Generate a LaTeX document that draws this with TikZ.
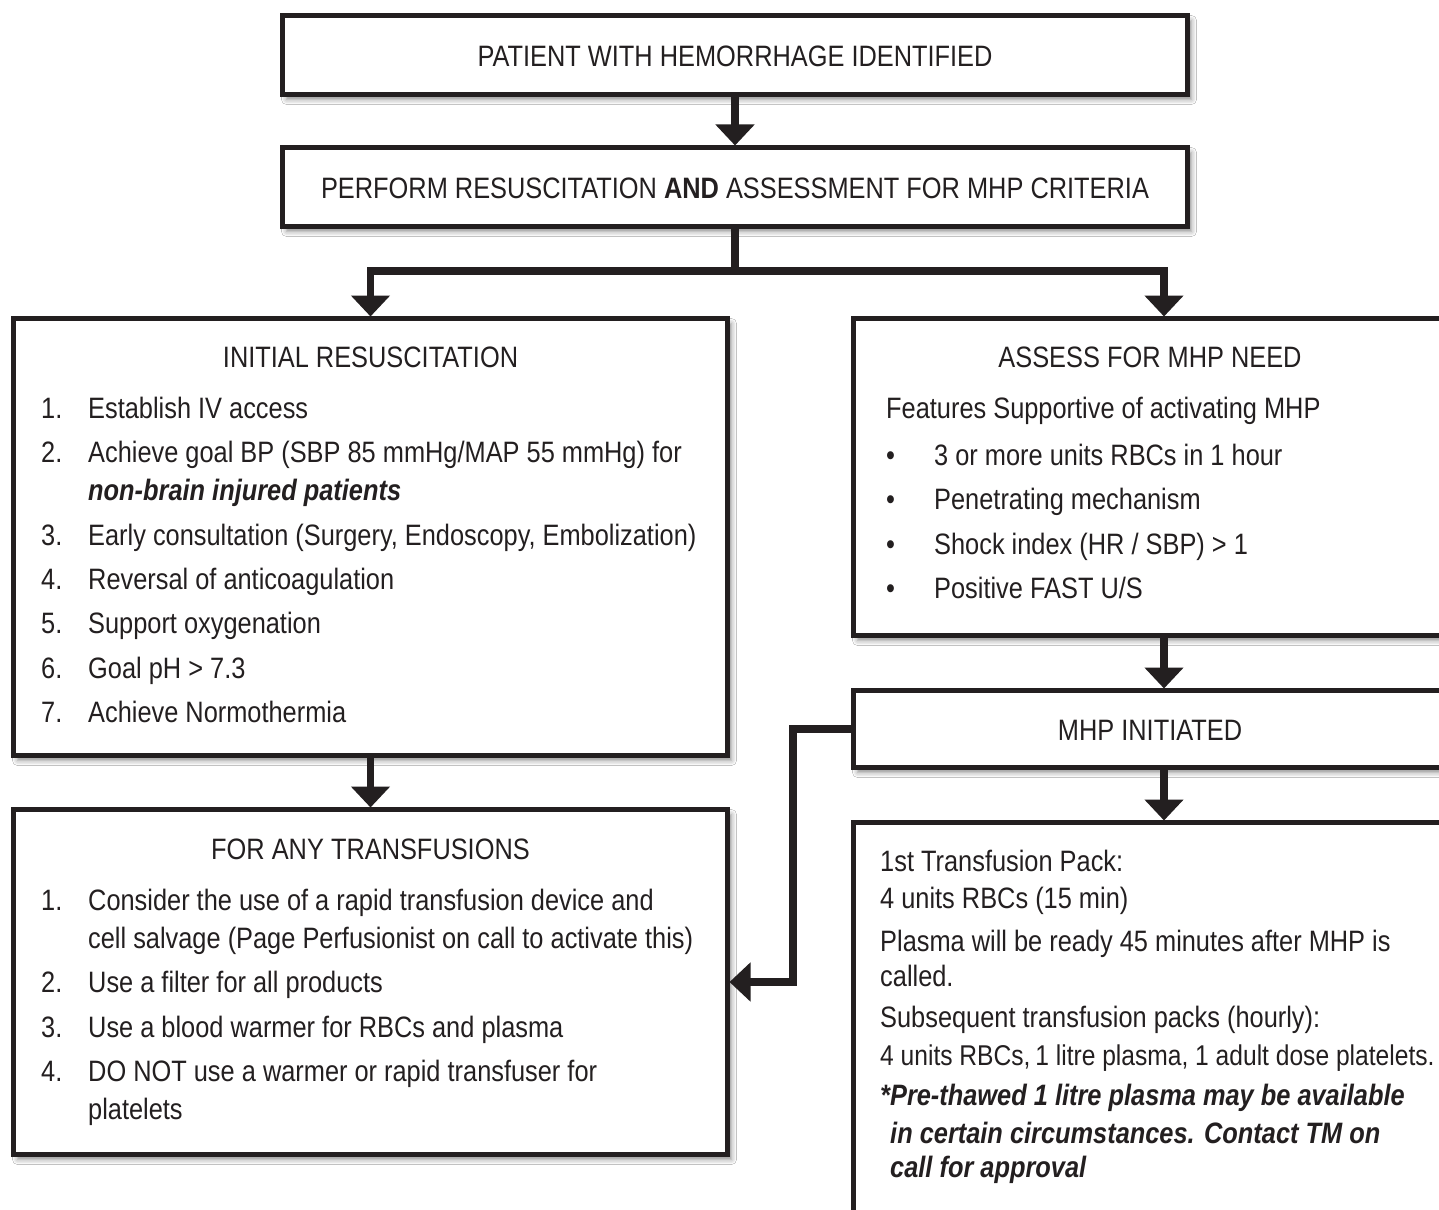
\documentclass[tikz,border=0pt]{standalone}
\usepackage{fontspec}
\setmainfont{Liberation Sans}[FakeStretch=0.86]
\usetikzlibrary{arrows.meta,shadows.blur,calc}
\definecolor{ink}{HTML}{231F20}
\begin{document}
\begin{tikzpicture}[x=1pt,y=-1pt,
  font=\fontsize{29.5}{35}\selectfont,
  box/.style={draw=ink, line width=5pt, fill=white, rectangle, inner sep=0pt, outer sep=0pt,
    anchor=north west,
    blur shadow={shadow xshift=4pt, shadow yshift=-5pt, shadow blur radius=5pt, shadow opacity=45}},
  tl/.style={anchor=base west, inner sep=0pt, text=ink},
  tc/.style={anchor=base, inner sep=0pt, text=ink},
  conn/.style={draw=ink, line width=7.5pt, line join=miter},
  arr/.style={conn, -{Triangle[width=38pt,length=21pt]}, shorten >=2pt}]
\clip (0,0) rectangle (1439,1209);
\fill[white] (0,0) rectangle (1439,1209);

% boxes
\node[box, minimum width=905pt, minimum height=79pt] (n1) at (282.5,15.5) {};
\node[box, minimum width=905pt, minimum height=79pt] (n2) at (282.5,147.5) {};
\node[box, minimum width=714pt, minimum height=437pt] (ir) at (13.5,318.5) {};
\node[box, minimum width=620pt, minimum height=317pt] (as) at (853.5,318.5) {};
\node[box, minimum width=620pt, minimum height=77pt] (mhp) at (853.5,690.5) {};
\node[box, minimum width=620pt, minimum height=420pt] (tp) at (853.5,822.5) {};
\node[box, minimum width=714pt, minimum height=345pt] (fa) at (13.5,809.5) {};

% connectors
\coordinate (jn) at (735,271);
\coordinate (rx) at (1164,0);
\coordinate (bend) at (793,982);
\draw[arr] (n1.south) -- (n2.north);
\draw[conn] (n2.south) -- (jn);
\draw[arr] (jn) -| (ir.north);
\draw[arr] (jn) -| (rx |- as.north);
\draw[arr] (ir.south) -- (fa.north);
\draw[arr] (rx |- as.south) -- (rx |- mhp.north);
\draw[arr] (rx |- mhp.south) -- (rx |- tp.north);
\draw[arr] (mhp.west) -| (bend) -- (fa.east);

% top texts
\node[tc] (t1) at (735,66.5) {PATIENT WITH HEMORRHAGE IDENTIFIED};
\node[tc] (t2) at (735,198.5) {PERFORM RESUSCITATION \textbf{AND} ASSESSMENT FOR MHP CRITERIA};

% initial resuscitation
\node[tc] (irh) at (370.5,367.5) {INITIAL RESUSCITATION};
\node[tl] (ir1n) at (41,418) {1.};
\node[tl] (ir1) at (88,418) {Establish IV access};
\node[tl] (ir2n) at (41,462) {2.};
\node[tl] (ir2) at (88,462) {Achieve goal BP (SBP 85 mmHg/MAP 55 mmHg) for};
\node[tl] (ir2b) at (88,500) {\bfseries\itshape non-brain injured patients};
\node[tl] (ir3n) at (41,545) {3.};
\node[tl] (ir3) at (88,545) {Early consultation (Surgery, Endoscopy, Embolization)};
\node[tl] (ir4n) at (41,589) {4.};
\node[tl] (ir4) at (88,589) {Reversal of anticoagulation};
\node[tl] (ir5n) at (41,633) {5.};
\node[tl] (ir5) at (88,633) {Support oxygenation};
\node[tl] (ir6n) at (41,678) {6.};
\node[tl] (ir6) at (88,678) {Goal pH > 7.3};
\node[tl] (ir7n) at (41,722) {7.};
\node[tl] (ir7) at (88,722) {Achieve Normothermia};

% assess
\node[tc] (ash) at (1150,367.5) {ASSESS FOR MHP NEED};
\node[tl] (asf) at (886,418) {Features Supportive of activating MHP};
\node[tl] (as1b) at (886,465) {•};
\node[tl] (as1) at (934,465) {3 or more units RBCs in 1 hour};
\node[tl] (as2b) at (886,509) {•};
\node[tl] (as2) at (934,509) {Penetrating mechanism};
\node[tl] (as3b) at (886,554) {•};
\node[tl] (as3) at (934,554) {Shock index (HR / SBP) > 1};
\node[tl] (as4b) at (886,598) {•};
\node[tl] (as4) at (934,598) {Positive FAST U/S};

% MHP initiated
\node[tc] (mhpt) at (1150,740) {MHP INITIATED};

% transfusion pack
\node[tl] (tp1) at (880,871) {1st Transfusion Pack:};
\node[tl] (tp2) at (880,908) {4 units RBCs (15 min)};
\node[tl] (tp3) at (880,951) {Plasma will be ready 45 minutes after MHP is};
\node[tl] (tp4) at (880,986) {called.};
\node[tl] (tp5) at (880,1027) {Subsequent transfusion packs (hourly):};
\node[tl, font=\fontsize{28.6}{34}\selectfont] (tp6) at (880,1065) {4 units RBCs,\,1 litre plasma, 1 adult dose platelets.};
\node[tl] (tp7) at (880,1105) {\bfseries\itshape *Pre-thawed 1 litre plasma may be available};
\node[tl] (tp8) at (890,1143) {\bfseries\itshape in certain circumstances. Contact TM on};
\node[tl] (tp9) at (890,1177) {\bfseries\itshape call for approval};

% for any transfusions
\node[tc] (fah) at (370.5,859) {FOR ANY TRANSFUSIONS};
\node[tl] (fa1n) at (41,910) {1.};
\node[tl] (fa1) at (88,910) {Consider the use of a rapid transfusion device and};
\node[tl] (fa1b) at (88,948) {cell salvage (Page Perfusionist on call to activate this)};
\node[tl] (fa2n) at (41,992) {2.};
\node[tl] (fa2) at (88,992) {Use a filter for all products};
\node[tl] (fa3n) at (41,1037) {3.};
\node[tl] (fa3) at (88,1037) {Use a blood warmer for RBCs and plasma};
\node[tl] (fa4n) at (41,1081) {4.};
\node[tl] (fa4) at (88,1081) {DO NOT use a warmer or rapid transfuser for};
\node[tl] (fa4b) at (88,1119) {platelets};
\end{tikzpicture}
\end{document}
